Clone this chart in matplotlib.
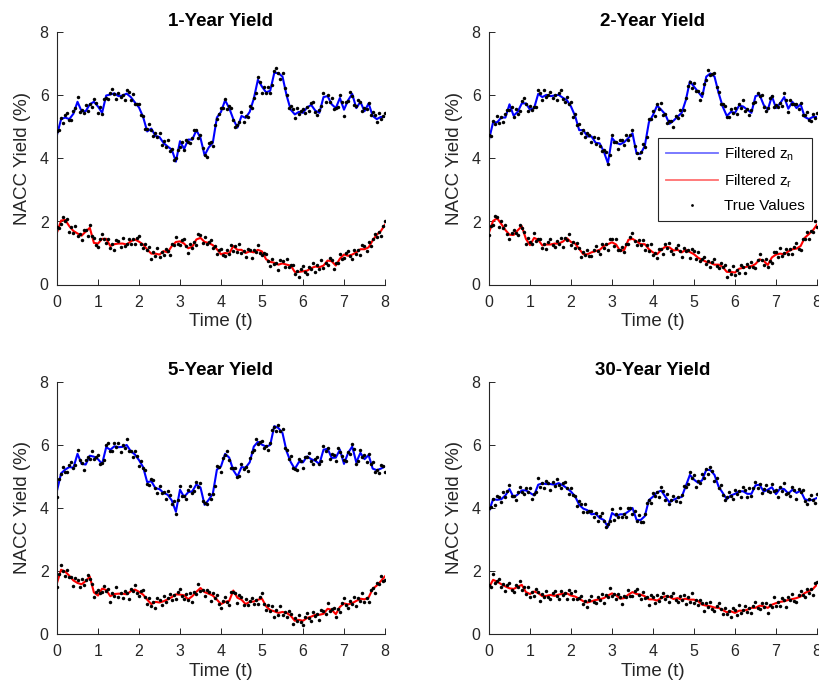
import numpy as np
import matplotlib
matplotlib.use("Agg")
import matplotlib.pyplot as plt
from matplotlib.lines import Line2D

plt.rcParams['font.family'] = ['Liberation Sans', 'DejaVu Sans']

# time grids: filtered states every 0.1, observed ("true") yields every 0.05
t_line = np.linspace(0, 8, 81)
t_dots = np.linspace(0, 8, 161)

titles = ['1-Year Yield', '2-Year Yield', '5-Year Yield', '30-Year Yield']

# ---- 1-Year ----
filt_n_1y = [4.75, 5.25, 5.30, 5.25, 5.42, 5.80, 5.50, 5.50, 5.72, 5.80,
             5.65, 5.45, 6.00, 6.03, 6.07, 5.98, 6.00, 6.06, 5.95, 5.78,
             5.62, 5.32, 4.86, 4.95, 4.72, 4.68, 4.49, 4.38, 4.28, 3.90,
             4.55, 4.30, 4.60, 4.60, 4.90, 4.65, 4.10, 4.35, 4.50, 5.30,
             5.48, 5.85, 5.60, 5.25, 4.98, 5.35, 5.29, 5.48, 5.90, 6.50,
             6.28, 6.10, 6.15, 6.72, 6.71, 6.60, 6.00, 5.55, 5.40, 5.48,
             5.45, 5.62, 5.70, 5.52, 5.45, 5.95, 5.98, 5.72, 5.60, 5.92,
             5.55, 5.85, 6.05, 5.60, 5.80, 5.50, 5.75, 5.35, 5.25, 5.32,
             5.32]
filt_r_1y = [1.65, 2.03, 2.05, 1.85, 1.70, 1.62, 1.55, 1.68, 1.80, 1.32,
             1.30, 1.45, 1.45, 1.22, 1.28, 1.30, 1.30, 1.27, 1.37, 1.43,
             1.36, 1.27, 1.11, 0.98, 0.98, 0.95, 1.06, 1.02, 1.22, 1.35,
             1.37, 1.30, 1.15, 1.20, 1.43, 1.48, 1.35, 1.32, 1.25, 1.12,
             0.96, 1.00, 0.98, 1.22, 1.10, 1.10, 1.00, 1.05, 1.02, 1.10,
             1.05, 0.80, 0.72, 0.69, 0.63, 0.67, 0.63, 0.60, 0.40, 0.40,
             0.42, 0.44, 0.52, 0.57, 0.55, 0.60, 0.76, 0.74, 0.60, 0.82,
             0.95, 0.91, 0.95, 1.02, 1.12, 1.12, 1.18, 1.40, 1.58, 1.70,
             1.90]
true_n_1y = [4.87, 4.92, 5.28, 5.13, 5.37, 5.46, 5.21, 5.23, 5.51, 5.59,
             5.94, 5.48, 5.55, 5.44, 5.70, 5.52, 5.73, 5.63, 5.90, 5.77,
             5.46, 5.63, 5.42, 5.88, 5.93, 5.90, 6.09, 6.21, 6.06, 5.89,
             6.09, 5.94, 6.02, 5.85, 6.19, 6.10, 5.85, 6.04, 5.72, 5.73,
             5.74, 5.39, 5.35, 4.94, 4.93, 5.09, 4.91, 4.73, 4.81, 4.68,
             4.82, 4.42, 4.54, 4.38, 4.58, 4.24, 4.29, 3.96, 4.00, 4.27,
             4.36, 4.51, 4.27, 4.60, 4.53, 4.48, 4.66, 4.91, 4.89, 4.64,
             4.76, 4.33, 4.12, 4.05, 4.48, 4.52, 4.40, 5.07, 5.24, 5.42,
             5.60, 5.59, 5.88, 5.58, 5.67, 5.61, 5.21, 5.01, 5.07, 5.15,
             5.49, 5.15, 5.34, 5.33, 5.68, 5.60, 5.91, 6.07, 6.60, 6.43,
             6.09, 6.27, 6.07, 6.28, 6.08, 6.32, 6.78, 6.88, 6.70, 6.52,
             6.71, 6.25, 6.02, 5.60, 5.68, 5.57, 5.30, 5.61, 5.42, 5.50,
             5.57, 5.46, 5.65, 5.51, 5.77, 5.79, 5.48, 5.38, 5.54, 5.68,
             6.09, 5.80, 6.03, 5.79, 5.92, 5.57, 5.61, 5.63, 6.02, 5.78,
             5.36, 5.78, 5.82, 6.10, 5.98, 5.71, 5.66, 5.86, 5.79, 5.51,
             5.61, 5.58, 5.77, 5.37, 5.48, 5.39, 5.15, 5.46, 5.26, 5.35,
             5.44]
true_r_1y = [1.83, 1.80, 1.92, 2.13, 2.03, 2.09, 1.68, 1.83, 1.64, 1.86,
             1.53, 1.60, 1.42, 1.72, 1.72, 1.55, 1.88, 1.53, 1.47, 1.24,
             1.18, 1.44, 1.61, 1.44, 1.31, 1.45, 1.17, 1.27, 1.10, 1.42,
             1.39, 1.20, 1.47, 1.23, 1.30, 1.44, 1.29, 1.43, 1.28, 1.47,
             1.54, 1.28, 1.16, 1.28, 1.09, 1.19, 0.81, 1.03, 0.92, 1.17,
             0.86, 1.02, 0.93, 1.14, 1.06, 0.93, 1.30, 1.26, 1.50, 1.29,
             1.25, 1.40, 1.46, 1.22, 1.01, 1.29, 1.15, 1.34, 1.25, 1.59,
             1.57, 1.32, 1.52, 1.28, 1.35, 1.41, 1.17, 1.22, 0.97, 1.11,
             1.14, 0.94, 0.89, 1.08, 0.96, 1.24, 1.05, 1.21, 1.04, 1.30,
             1.01, 1.06, 0.87, 1.13, 1.09, 0.85, 1.10, 1.03, 1.25, 1.01,
             0.93, 0.99, 0.96, 0.75, 0.58, 0.82, 0.64, 0.68, 0.45, 0.78,
             0.76, 0.55, 0.80, 0.56, 0.63, 0.62, 0.32, 0.43, 0.25, 0.48,
             0.60, 0.39, 0.33, 0.57, 0.50, 0.69, 0.40, 0.61, 0.49, 0.78,
             0.51, 0.69, 0.63, 0.85, 0.78, 0.48, 0.68, 0.68, 0.97, 0.82,
             0.83, 0.99, 1.07, 0.92, 0.81, 1.10, 0.97, 1.09, 0.94, 1.25,
             1.21, 1.05, 1.35, 1.23, 1.43, 1.61, 1.50, 1.67, 1.55, 1.87,
             2.02]

# ---- 2-Year ----
filt_n_2y = [4.60, 5.15, 5.15, 5.30, 5.30, 5.72, 5.36, 5.48, 5.75, 5.75,
             5.55, 5.60, 6.05, 5.95, 6.02, 5.98, 6.00, 6.02, 5.93, 5.85,
             5.65, 5.35, 4.90, 4.90, 4.70, 4.70, 4.50, 4.48, 4.22, 3.85,
             4.65, 4.50, 4.45, 4.52, 4.65, 4.80, 4.15, 4.15, 4.40, 5.15,
             5.38, 5.68, 5.55, 5.40, 5.10, 5.20, 5.33, 5.45, 5.85, 6.45,
             6.28, 6.12, 5.95, 6.60, 6.70, 6.60, 6.08, 5.65, 5.35, 5.48,
             5.45, 5.68, 5.65, 5.55, 5.45, 5.98, 6.02, 5.70, 5.55, 5.98,
             5.60, 5.75, 5.95, 5.58, 5.80, 5.60, 5.72, 5.32, 5.25, 5.32,
             5.32]
filt_r_2y = [1.65, 2.02, 2.10, 1.92, 1.73, 1.58, 1.57, 1.72, 1.85, 1.45,
             1.25, 1.48, 1.42, 1.24, 1.27, 1.27, 1.30, 1.30, 1.36, 1.47,
             1.35, 1.30, 1.13, 0.96, 0.96, 1.02, 1.06, 1.10, 1.22, 1.28,
             1.34, 1.27, 1.06, 1.10, 1.42, 1.45, 1.37, 1.28, 1.28, 1.12,
             1.02, 0.96, 1.10, 1.20, 1.18, 1.08, 1.10, 1.02, 1.10, 1.03,
             0.96, 0.85, 0.78, 0.72, 0.69, 0.63, 0.63, 0.56, 0.40, 0.40,
             0.38, 0.50, 0.53, 0.57, 0.58, 0.65, 0.80, 0.75, 0.62, 0.86,
             0.95, 0.98, 0.96, 1.05, 1.12, 1.14, 1.22, 1.48, 1.60, 1.72,
             1.90]
true_n_2y = [4.74, 4.71, 5.20, 5.09, 5.35, 5.14, 5.31, 5.17, 5.40, 5.55,
             5.53, 5.62, 5.33, 5.57, 5.41, 5.50, 5.81, 5.91, 5.74, 5.51,
             5.66, 5.53, 5.62, 5.65, 6.18, 6.09, 5.85, 6.16, 5.96, 6.03,
             6.10, 5.91, 6.03, 5.86, 6.09, 6.16, 5.89, 5.78, 5.94, 5.73,
             5.79, 5.33, 5.40, 5.07, 5.10, 4.81, 4.91, 4.67, 4.80, 4.74,
             4.51, 4.68, 4.47, 4.64, 4.41, 4.23, 4.28, 4.20, 3.84, 4.11,
             4.76, 4.53, 4.52, 4.30, 4.58, 4.58, 4.42, 4.76, 4.59, 4.76,
             4.92, 4.40, 4.18, 4.00, 4.22, 4.46, 4.36, 4.67, 5.24, 5.25,
             5.52, 5.36, 5.73, 5.56, 5.75, 5.39, 5.41, 5.12, 5.20, 5.19,
             5.01, 5.35, 5.30, 5.54, 5.38, 5.53, 5.91, 6.31, 6.44, 6.23,
             6.39, 6.15, 6.14, 5.86, 6.08, 6.37, 6.50, 6.82, 6.64, 6.68,
             6.72, 6.26, 6.11, 5.72, 5.72, 5.68, 5.31, 5.31, 5.57, 5.45,
             5.59, 5.40, 5.73, 5.61, 5.85, 5.51, 5.56, 5.37, 5.55, 5.76,
             5.79, 6.08, 5.99, 6.01, 5.63, 5.51, 5.61, 5.93, 5.97, 5.65,
             5.71, 5.63, 5.77, 5.67, 6.08, 5.86, 5.48, 5.86, 5.74, 5.73,
             5.72, 5.58, 5.75, 5.37, 5.39, 5.47, 5.21, 5.18, 5.41, 5.30,
             5.46]
true_r_2y = [1.56, 1.85, 1.89, 2.16, 2.14, 1.82, 2.00, 1.80, 1.88, 1.59,
             1.46, 1.64, 1.73, 1.64, 1.58, 1.90, 1.80, 1.67, 1.27, 1.48,
             1.34, 1.27, 1.65, 1.39, 1.45, 1.45, 1.16, 1.29, 1.12, 1.34,
             1.45, 1.25, 1.19, 1.39, 1.28, 1.47, 1.19, 1.47, 1.41, 1.61,
             1.26, 1.34, 1.17, 1.32, 1.17, 0.86, 1.04, 0.93, 1.11, 0.92,
             0.90, 1.10, 1.22, 1.07, 0.96, 1.27, 1.17, 1.27, 1.10, 1.44,
             1.43, 1.21, 1.44, 1.11, 1.09, 1.20, 1.02, 1.29, 1.27, 1.51,
             1.63, 1.37, 1.26, 1.42, 1.26, 1.42, 1.11, 1.25, 1.06, 1.27,
             0.93, 1.00, 0.83, 1.13, 1.14, 0.96, 1.28, 1.16, 1.33, 1.06,
             0.96, 1.15, 1.26, 1.05, 0.88, 1.17, 1.05, 1.09, 0.85, 1.13,
             1.05, 0.81, 1.02, 0.76, 0.81, 0.87, 0.64, 0.74, 0.54, 0.73,
             0.81, 0.59, 0.52, 0.69, 0.54, 0.62, 0.23, 0.45, 0.34, 0.59,
             0.29, 0.45, 0.37, 0.62, 0.57, 0.36, 0.65, 0.55, 0.73, 0.55,
             0.53, 0.79, 0.96, 0.77, 0.61, 0.80, 0.57, 0.76, 0.68, 1.04,
             1.04, 0.87, 1.15, 0.91, 0.99, 1.13, 0.97, 1.12, 0.97, 1.20,
             1.32, 1.14, 1.11, 1.44, 1.46, 1.68, 1.43, 1.71, 1.66, 2.01,
             1.81]

# ---- 5-Year ----
filt_n_5y = [4.55, 5.10, 5.22, 5.30, 5.28, 5.72, 5.40, 5.38, 5.66, 5.63,
             5.55, 5.40, 5.93, 5.85, 5.96, 5.93, 5.94, 6.00, 5.80, 5.70,
             5.52, 5.30, 4.82, 4.85, 4.63, 4.60, 4.48, 4.42, 4.24, 3.88,
             4.58, 4.35, 4.50, 4.53, 4.75, 4.65, 4.10, 4.26, 4.45, 5.22,
             5.32, 5.72, 5.60, 5.20, 5.00, 5.30, 5.28, 5.45, 5.95, 6.10,
             6.01, 5.95, 6.00, 6.60, 6.54, 6.38, 5.80, 5.46, 5.24, 5.46,
             5.45, 5.64, 5.55, 5.50, 5.40, 5.85, 5.88, 5.59, 5.60, 5.85,
             5.40, 5.75, 5.95, 5.45, 5.75, 5.55, 5.68, 5.25, 5.20, 5.25,
             5.32]
filt_r_5y = [1.62, 2.04, 1.98, 1.85, 1.70, 1.62, 1.58, 1.68, 1.82, 1.32,
             1.22, 1.44, 1.40, 1.20, 1.27, 1.28, 1.28, 1.26, 1.36, 1.41,
             1.34, 1.25, 1.09, 0.95, 1.02, 1.00, 1.04, 1.10, 1.17, 1.26,
             1.25, 1.23, 1.10, 1.20, 1.34, 1.46, 1.33, 1.28, 1.22, 1.09,
             0.95, 1.02, 1.05, 1.38, 1.15, 1.09, 0.95, 1.02, 1.03, 1.09,
             1.12, 0.88, 0.76, 0.72, 0.67, 0.70, 0.67, 0.58, 0.42, 0.45,
             0.42, 0.51, 0.55, 0.61, 0.61, 0.64, 0.80, 0.77, 0.63, 0.86,
             0.97, 0.94, 0.98, 1.05, 1.12, 1.10, 1.16, 1.43, 1.54, 1.68,
             1.83]
true_n_5y = [4.36, 4.91, 5.07, 5.31, 5.15, 5.14, 5.36, 5.45, 5.27, 5.36,
             5.83, 5.51, 5.42, 5.21, 5.51, 5.61, 5.56, 5.82, 5.57, 5.62,
             5.67, 5.40, 5.43, 5.52, 6.00, 6.07, 5.81, 5.80, 6.05, 5.93,
             6.07, 5.77, 5.99, 5.91, 6.20, 5.81, 5.81, 5.62, 5.80, 5.65,
             5.33, 5.49, 5.27, 5.21, 4.75, 4.72, 4.91, 4.90, 4.62, 4.48,
             4.71, 4.49, 4.50, 4.27, 4.55, 4.42, 4.14, 4.23, 3.82, 4.26,
             4.70, 4.39, 4.38, 4.28, 4.57, 4.70, 4.49, 4.53, 4.84, 4.68,
             4.79, 4.21, 4.15, 4.12, 4.46, 4.27, 4.46, 4.71, 5.32, 5.31,
             5.13, 5.60, 5.69, 5.81, 5.53, 5.28, 5.26, 5.26, 4.99, 5.01,
             5.41, 5.24, 5.30, 5.19, 5.58, 5.79, 5.85, 6.20, 6.04, 6.09,
             6.13, 5.90, 5.98, 5.83, 6.07, 6.48, 6.56, 6.46, 6.63, 6.44,
             6.52, 5.92, 5.85, 5.57, 5.66, 5.26, 5.25, 5.22, 5.56, 5.50,
             5.26, 5.63, 5.61, 5.75, 5.48, 5.41, 5.56, 5.61, 5.39, 5.49,
             5.96, 5.82, 5.90, 5.56, 5.72, 5.69, 5.50, 5.90, 5.79, 5.66,
             5.52, 5.50, 5.78, 5.70, 6.02, 5.88, 5.41, 5.49, 5.84, 5.63,
             5.69, 5.45, 5.73, 5.41, 5.45, 5.14, 5.21, 5.10, 5.35, 5.33,
             5.13]
true_r_5y = [1.50, 1.89, 2.20, 2.00, 1.84, 2.03, 1.80, 1.80, 1.52, 1.79,
             1.71, 1.50, 1.75, 1.57, 1.71, 1.87, 1.74, 1.60, 1.17, 1.34,
             1.40, 1.29, 1.33, 1.51, 1.38, 1.44, 1.03, 1.29, 1.21, 1.48,
             1.19, 1.29, 1.15, 1.37, 1.30, 1.12, 1.44, 1.36, 1.56, 1.31,
             1.22, 1.36, 1.41, 1.16, 0.95, 1.13, 0.90, 1.01, 0.84, 1.14,
             1.09, 0.92, 1.21, 1.01, 1.13, 1.26, 1.09, 1.25, 1.11, 1.33,
             1.43, 1.20, 1.12, 1.26, 1.08, 1.29, 1.03, 1.32, 1.28, 1.60,
             1.37, 1.41, 1.20, 1.41, 1.32, 1.06, 1.30, 1.13, 1.24, 0.95,
             0.83, 1.05, 1.18, 1.03, 0.91, 1.33, 1.33, 1.29, 0.97, 1.25,
             1.18, 0.92, 1.12, 0.93, 1.05, 1.15, 0.95, 1.09, 0.94, 1.18,
             1.30, 0.96, 0.77, 0.91, 0.74, 0.88, 0.55, 0.75, 0.61, 0.89,
             0.61, 0.70, 0.54, 0.73, 0.62, 0.31, 0.50, 0.41, 0.60, 0.37,
             0.30, 0.53, 0.67, 0.52, 0.41, 0.69, 0.56, 0.63, 0.43, 0.76,
             0.73, 0.62, 0.97, 0.73, 0.80, 0.82, 0.55, 0.78, 0.71, 0.99,
             1.15, 0.92, 0.83, 1.05, 0.96, 1.16, 0.88, 1.14, 1.06, 1.31,
             1.01, 1.14, 1.03, 1.40, 1.47, 1.30, 1.62, 1.58, 1.83, 1.69,
             1.71]

# ---- 30-Year ----
filt_n_30y = [3.90, 4.28, 4.26, 4.28, 4.40, 4.60, 4.34, 4.43, 4.56, 4.56,
              4.48, 4.40, 4.74, 4.78, 4.76, 4.76, 4.74, 4.79, 4.72, 4.63,
              4.52, 4.37, 4.10, 3.98, 3.93, 3.80, 3.82, 3.68, 3.62, 3.40,
              3.84, 3.75, 3.80, 3.80, 3.89, 4.00, 3.62, 3.62, 3.74, 4.25,
              4.36, 4.50, 4.55, 4.36, 4.18, 4.26, 4.32, 4.35, 4.70, 5.05,
              4.90, 4.80, 4.88, 5.22, 5.20, 5.05, 4.68, 4.48, 4.28, 4.40,
              4.45, 4.53, 4.53, 4.45, 4.45, 4.72, 4.74, 4.52, 4.58, 4.66,
              4.44, 4.62, 4.60, 4.46, 4.58, 4.48, 4.55, 4.28, 4.24, 4.26,
              4.32]
filt_r_30y = [1.48, 1.72, 1.66, 1.58, 1.51, 1.45, 1.43, 1.50, 1.56, 1.33,
              1.27, 1.35, 1.30, 1.20, 1.21, 1.24, 1.21, 1.25, 1.28, 1.29,
              1.22, 1.19, 1.12, 1.04, 1.00, 1.04, 1.08, 1.10, 1.14, 1.22,
              1.29, 1.23, 1.12, 1.14, 1.25, 1.33, 1.27, 1.25, 1.20, 1.10,
              1.10, 1.06, 1.14, 1.20, 1.18, 1.11, 1.14, 1.09, 1.12, 1.09,
              1.09, 1.04, 0.93, 0.90, 0.88, 0.84, 0.83, 0.76, 0.69, 0.72,
              0.67, 0.74, 0.74, 0.77, 0.83, 0.83, 0.90, 0.88, 0.83, 0.93,
              0.98, 1.02, 1.04, 1.08, 1.11, 1.14, 1.19, 1.30, 1.36, 1.43,
              1.57]
true_n_30y = [4.01, 4.04, 4.30, 4.09, 4.39, 4.36, 4.18, 4.51, 4.34, 4.53,
              4.72, 4.39, 4.37, 4.24, 4.50, 4.68, 4.52, 4.45, 4.65, 4.50,
              4.62, 4.27, 4.45, 4.51, 4.94, 4.67, 4.79, 4.64, 4.86, 4.80,
              4.57, 4.83, 4.71, 4.92, 4.72, 4.64, 4.78, 4.84, 4.62, 4.44,
              4.63, 4.40, 4.39, 4.06, 4.23, 4.13, 3.88, 4.13, 3.87, 3.90,
              3.92, 3.73, 3.85, 3.60, 3.75, 3.83, 3.58, 3.40, 3.49, 3.60,
              3.98, 3.63, 3.80, 3.72, 4.00, 3.71, 3.81, 3.72, 3.99, 3.99,
              3.81, 3.89, 3.59, 3.77, 3.55, 3.56, 3.80, 4.16, 4.24, 4.17,
              4.47, 4.38, 4.52, 4.35, 4.68, 4.55, 4.26, 4.44, 4.12, 4.25,
              4.38, 4.21, 4.35, 4.19, 4.42, 4.71, 4.66, 4.77, 5.14, 4.96,
              5.04, 4.68, 4.85, 4.78, 5.08, 4.96, 5.23, 5.08, 5.30, 5.17,
              4.86, 4.95, 4.65, 4.73, 4.41, 4.26, 4.34, 4.50, 4.39, 4.29,
              4.56, 4.44, 4.55, 4.35, 4.66, 4.58, 4.35, 4.62, 4.39, 4.62,
              4.84, 4.65, 4.77, 4.48, 4.59, 4.73, 4.54, 4.51, 4.75, 4.53,
              4.58, 4.36, 4.67, 4.55, 4.80, 4.44, 4.47, 4.39, 4.68, 4.57,
              4.29, 4.60, 4.52, 4.57, 4.21, 4.14, 4.30, 4.41, 4.25, 4.15,
              4.43]
true_r_30y = [1.57, 1.50, 1.89, 1.63, 1.69, 1.74, 1.50, 1.58, 1.36, 1.55,
              1.63, 1.40, 1.32, 1.56, 1.48, 1.67, 1.39, 1.50, 1.27, 1.50,
              1.18, 1.32, 1.22, 1.43, 1.34, 1.06, 1.28, 1.18, 1.36, 1.16,
              1.12, 1.29, 1.37, 1.22, 1.11, 1.38, 1.23, 1.31, 1.11, 1.39,
              1.31, 1.11, 1.36, 1.10, 1.15, 1.20, 0.96, 1.05, 0.85, 1.09,
              1.22, 1.02, 0.97, 1.18, 1.08, 1.26, 0.97, 1.23, 1.16, 1.46,
              1.20, 1.27, 1.10, 1.28, 1.16, 0.94, 1.22, 1.17, 1.40, 1.22,
              1.21, 1.36, 1.43, 1.25, 1.11, 1.34, 1.15, 1.17, 0.92, 1.23,
              1.19, 0.98, 1.23, 1.04, 1.17, 1.29, 1.12, 1.22, 1.03, 1.22,
              1.29, 1.09, 1.03, 1.21, 1.07, 1.25, 0.95, 1.16, 1.03, 1.29,
              1.00, 1.08, 0.91, 1.09, 0.97, 0.73, 0.98, 0.86, 1.03, 0.79,
              0.72, 0.90, 0.99, 0.79, 0.62, 0.84, 0.64, 0.73, 0.54, 0.83,
              0.76, 0.61, 0.91, 0.68, 0.77, 0.88, 0.69, 0.83, 0.68, 0.90,
              1.01, 0.83, 0.79, 0.98, 0.86, 1.00, 0.66, 0.93, 0.87, 1.16,
              0.89, 1.01, 0.89, 1.13, 1.08, 0.87, 1.16, 1.07, 1.26, 1.06,
              1.02, 1.23, 1.35, 1.24, 1.16, 1.44, 1.31, 1.42, 1.25, 1.63,
              1.66]

panels = [
    (filt_n_1y, filt_r_1y, true_n_1y, true_r_1y),
    (filt_n_2y, filt_r_2y, true_n_2y, true_r_2y),
    (filt_n_5y, filt_r_5y, true_n_5y, true_r_5y),
    (filt_n_30y, filt_r_30y, true_n_30y, true_r_30y),
]

fig = plt.figure(figsize=(8.2, 6.91), dpi=100)
W, H = 820, 691
lefts = [57, 489, 57, 489]
tops = [32.5, 32.5, 382, 382]
aw, ah = 328, 252

dark = '#262626'
for i, (fn, fr, tn, tr) in enumerate(panels):
    ax = fig.add_axes([lefts[i] / W, 1 - (tops[i] + ah) / H, aw / W, ah / H])
    ax.plot(t_line, fn, color='#0000ff', lw=1.5, zorder=2)
    ax.plot(t_line, fr, color='#ff0000', lw=1.5, zorder=2)
    ax.plot(t_dots, tn, 'o', color='k', ms=2.5, mew=0, zorder=3)
    ax.plot(t_dots, tr, 'o', color='k', ms=2.5, mew=0, zorder=3)

    ax.set_xlim(0, 8)
    ax.set_ylim(0, 8)
    ax.set_xticks(range(0, 9))
    ax.set_yticks([0, 2, 4, 6, 8])
    for s in ['top', 'right']:
        ax.spines[s].set_visible(False)
    for s in ['left', 'bottom']:
        ax.spines[s].set_color(dark)
        ax.spines[s].set_linewidth(0.8)
    ax.tick_params(direction='in', length=4, width=0.7, colors=dark,
                   labelsize=11.5)
    ax.tick_params(axis='x', pad=7.5)
    ax.tick_params(axis='y', pad=6)
    ax.set_title(titles[i], fontsize=13.5, fontweight='bold', pad=5)
    ax.set_xlabel('Time (t)', fontsize=13.5, color=dark, labelpad=2.5)
    ax.set_ylabel('NACC Yield (%)', fontsize=13.5, color=dark, labelpad=6)

    if i == 1:
        handles = [
            Line2D([], [], color='#6f6fff', lw=1.3),
            Line2D([], [], color='#ff6f6f', lw=1.3),
            Line2D([], [], ls='none', marker='o', color='k', ms=2.0, mew=0),
        ]
        labels = ['Filtered z$_{\\mathregular{n}}$',
                  'Filtered z$_{\\mathregular{r}}$',
                  'True Values']
        leg = ax.legend(handles, labels, loc='upper right',
                        bbox_to_anchor=(0.985, 0.582), fontsize=11,
                        frameon=True, fancybox=False, framealpha=1,
                        edgecolor=dark, handlelength=3.4,
                        handletextpad=0.4, labelspacing=0.6,
                        borderpad=0.5, borderaxespad=0)
        leg.get_frame().set_linewidth(0.8)

fig.savefig('out.png', dpi=100)
